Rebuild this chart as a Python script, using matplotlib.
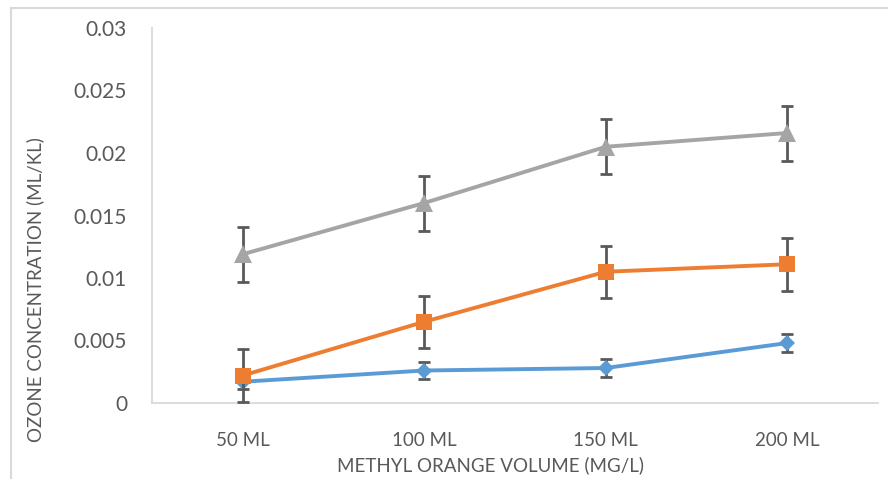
import matplotlib.pyplot as plt
from matplotlib.lines import Line2D

# categorias e valores
volumes = ['50 ML', '100 ML', '150 ML', '200 ML']
serie_azul = [0.0017, 0.0026, 0.0028, 0.0048]
erro_azul = [0.0006, 0.0007, 0.0007, 0.0007]
serie_laranja = [0.0022, 0.0065, 0.0105, 0.0111]
erro_laranja = [0.0021, 0.0021, 0.0021, 0.0021]
serie_cinza = [0.0119, 0.0160, 0.0205, 0.0216]
erro_cinza = [0.0022, 0.0022, 0.0022, 0.0022]
y_ticks = [0, 0.005, 0.01, 0.015, 0.02, 0.025, 0.03]
y_labels = ['0', '0.005', '0.01', '0.015', '0.02', '0.025', '0.03']

plt.rcParams['font.family'] = ['Lato', 'DejaVu Sans']

W, H = 888, 479
fig = plt.figure(figsize=(W / 100, H / 100), dpi=100)
ax = fig.add_axes([152 / W, (H - 403) / H, 726 / W, 375 / H])

texto = '#595959'
x = list(range(len(volumes)))

series = [
    (serie_azul, erro_azul, '#5B9BD5', 'D', 8.5),
    (serie_laranja, erro_laranja, '#ED7D31', 's', 12),
    (serie_cinza, erro_cinza, '#A5A5A5', '^', 12.5),
]
for i, (vals, errs, cor, marc, tam) in enumerate(series):
    ax.errorbar(x, vals, yerr=errs, fmt='none', ecolor='#595959',
                elinewidth=2, capsize=4.5, capthick=2, zorder=2 + 2 * i)
    ax.plot(x, vals, color=cor, linewidth=2.8, marker=marc,
            markersize=tam, markeredgewidth=0, zorder=3 + 2 * i)

ax.set_xlim(-0.5, len(volumes) - 0.5)
ax.set_ylim(0, 0.03)
ax.set_xticks(x)
ax.set_xticklabels(volumes, fontsize=13.5, color=texto)
ax.set_yticks(y_ticks)
ax.set_yticklabels(y_labels, fontsize=15, color=texto)
ax.tick_params(axis='both', length=0)
ax.tick_params(axis='x', pad=21)
ax.tick_params(axis='y', pad=18)

for lado in ['top', 'right']:
    ax.spines[lado].set_visible(False)
for lado in ['left', 'bottom']:
    ax.spines[lado].set_color('#D9D9D9')
    ax.spines[lado].set_linewidth(1.3)

fig.text(490 / W, 1 - 465 / H, 'METHYL ORANGE VOLUME (MG/L)', fontsize=13.5,
         color=texto, ha='center', va='center')
fig.text(35 / W, 1 - 290 / H, 'OZONE CONCENTRATION (ML/KL)', fontsize=13.5,
         color=texto, ha='center', va='center', rotation=90)

# moldura cinza do gráfico (esquerda e topo)
fig.add_artist(Line2D([11 / W, 11 / W], [0, 1 - 8 / H], color='#D9D9D9',
                      linewidth=1.5, transform=fig.transFigure))
fig.add_artist(Line2D([11 / W, 1], [1 - 8 / H, 1 - 8 / H], color='#D9D9D9',
                      linewidth=1.5, transform=fig.transFigure))

fig.savefig('out.png', dpi=100)
